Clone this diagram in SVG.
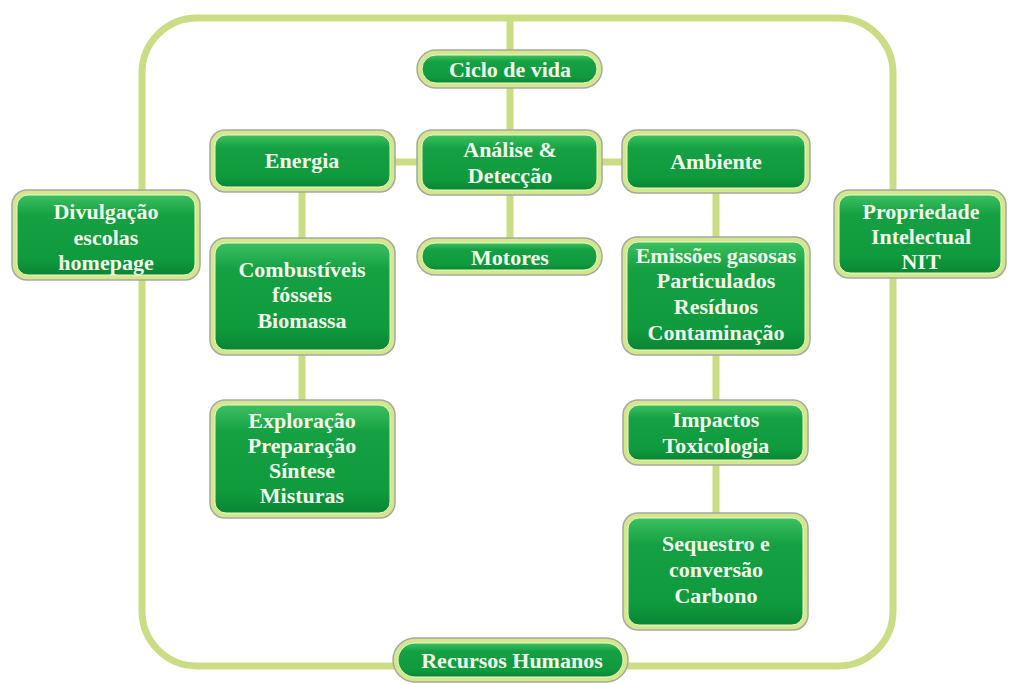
<svg xmlns="http://www.w3.org/2000/svg" width="1010" height="684" viewBox="0 0 1010 684">
<defs>
<linearGradient id="g" x1="0" y1="0" x2="0" y2="1">
<stop offset="0" stop-color="#3cc060"/>
<stop offset="0.25" stop-color="#14a043"/>
<stop offset="0.8" stop-color="#0f9a3e"/>
<stop offset="1" stop-color="#0a8534"/>
</linearGradient>
<style>
.ring{fill:#d3e88c;stroke:#a8a8a0;stroke-width:1.5}
.core{fill:url(#g);stroke:#eef6c8;stroke-width:1}
.t{font-family:"Liberation Serif",serif;font-weight:bold;font-size:22px;fill:#f2f9ea;text-anchor:middle}
.c{fill:none;stroke:#cadd84;stroke-width:7}
</style>
</defs>
<rect width="1010" height="684" fill="#ffffff"/>
<g id="connectors">
<rect class="c" x="142" y="18" width="751" height="648" rx="55" ry="55"/>
<line class="c" x1="510" y1="18" x2="510" y2="245"/>
<line class="c" x1="390" y1="162" x2="630" y2="162"/>
<line class="c" x1="302" y1="188" x2="302" y2="405"/>
<line class="c" x1="716" y1="188" x2="716" y2="518"/>
</g>
<g id="ciclo">
<rect class="ring" x="417" y="50" width="185" height="38" rx="19"/>
<rect class="core" x="422" y="55" width="175" height="28" rx="14"/>
<text class="t" x="510" y="77">Ciclo de vida</text>
</g>
<g id="analise">
<rect class="ring" x="417" y="130" width="185" height="65" rx="15"/>
<rect class="core" x="422" y="135" width="175" height="55" rx="11"/>
<text class="t" x="510" y="157">Análise &amp;</text>
<text class="t" x="510" y="183">Detecção</text>
</g>
<g id="motores">
<rect class="ring" x="417" y="238" width="185" height="37" rx="18"/>
<rect class="core" x="422" y="243" width="175" height="27" rx="13"/>
<text class="t" x="510" y="265">Motores</text>
</g>
<g id="energia">
<rect class="ring" x="210" y="130" width="185" height="62" rx="15"/>
<rect class="core" x="215" y="135" width="175" height="52" rx="11"/>
<text class="t" x="302" y="168">Energia</text>
</g>
<g id="combustiveis">
<rect class="ring" x="210" y="238" width="185" height="117" rx="15"/>
<rect class="core" x="215" y="243" width="175" height="107" rx="11"/>
<text class="t" x="302" y="277">Combustíveis</text>
<text class="t" x="302" y="302">fósseis</text>
<text class="t" x="302" y="328">Biomassa</text>
</g>
<g id="exploracao">
<rect class="ring" x="210" y="400" width="185" height="118" rx="15"/>
<rect class="core" x="215" y="405" width="175" height="108" rx="11"/>
<text class="t" x="302" y="428">Exploração</text>
<text class="t" x="302" y="453">Preparação</text>
<text class="t" x="302" y="478">Síntese</text>
<text class="t" x="302" y="503">Misturas</text>
</g>
<g id="ambiente">
<rect class="ring" x="622" y="130" width="188" height="63" rx="15"/>
<rect class="core" x="627" y="135" width="178" height="53" rx="11"/>
<text class="t" x="716" y="169">Ambiente</text>
</g>
<g id="emissoes">
<rect class="ring" x="622" y="237" width="188" height="118" rx="15"/>
<rect class="core" x="627" y="242" width="178" height="108" rx="11"/>
<text class="t" x="716" y="263">Emissões gasosas</text>
<text class="t" x="716" y="288">Particulados</text>
<text class="t" x="716" y="314">Resíduos</text>
<text class="t" x="716" y="340">Contaminação</text>
</g>
<g id="impactos">
<rect class="ring" x="623" y="400" width="185" height="65" rx="15"/>
<rect class="core" x="628" y="405" width="175" height="55" rx="11"/>
<text class="t" x="716" y="427">Impactos</text>
<text class="t" x="716" y="453">Toxicologia</text>
</g>
<g id="sequestro">
<rect class="ring" x="623" y="513" width="185" height="117" rx="15"/>
<rect class="core" x="628" y="518" width="175" height="107" rx="11"/>
<text class="t" x="716" y="551">Sequestro e</text>
<text class="t" x="716" y="577">conversão</text>
<text class="t" x="716" y="603">Carbono</text>
</g>
<g id="divulgacao">
<rect class="ring" x="12" y="190" width="188" height="90" rx="15"/>
<rect class="core" x="17" y="195" width="178" height="80" rx="11"/>
<text class="t" x="106" y="219">Divulgação</text>
<text class="t" x="106" y="245">escolas</text>
<text class="t" x="106" y="270">homepage</text>
</g>
<g id="propriedade">
<rect class="ring" x="834" y="190" width="172" height="88" rx="15"/>
<rect class="core" x="839" y="195" width="162" height="78" rx="11"/>
<text class="t" x="921" y="219">Propriedade</text>
<text class="t" x="921" y="244">Intelectual</text>
<text class="t" x="921" y="269">NIT</text>
</g>
<g id="recursos">
<rect class="ring" x="393" y="638" width="235" height="44" rx="22"/>
<rect class="core" x="398" y="643" width="225" height="34" rx="17"/>
<text class="t" x="512" y="668">Recursos Humanos</text>
</g>
</svg>
